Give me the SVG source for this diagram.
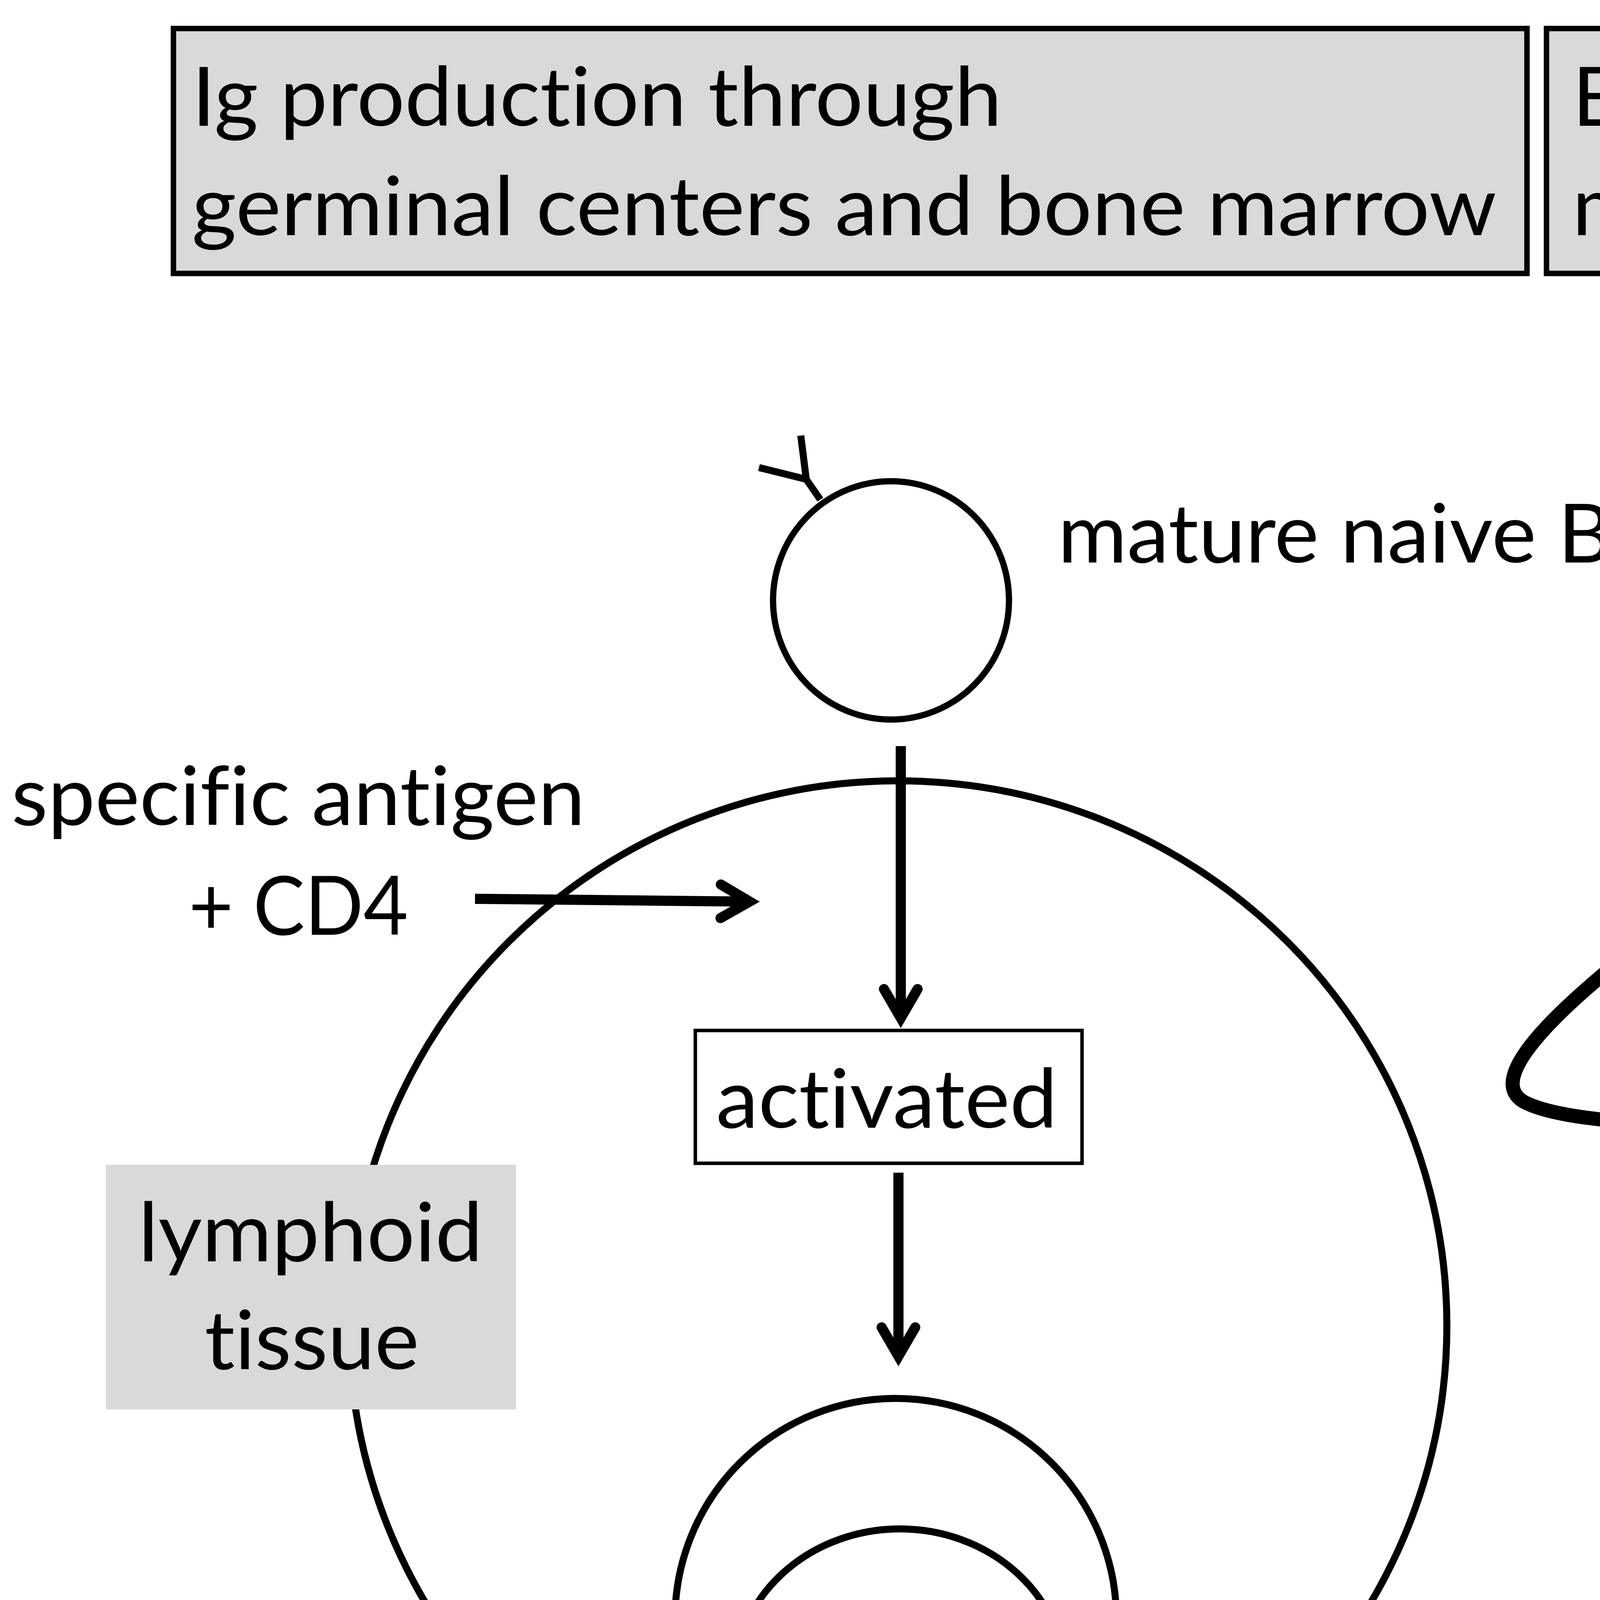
<svg xmlns="http://www.w3.org/2000/svg" width="7882" height="6039" viewBox="0 0 7882 6039">
<style>
.t{font-family:Lato,"Liberation Sans","Noto Sans CJK JP",sans-serif;font-size:210px;fill:#000;font-variant-ligatures:none}
.s{font-size:180px}
.b{font-weight:bold}
.cjk{font-family:"Noto Sans CJK JP",sans-serif;font-weight:normal;font-size:265px;letter-spacing:-40px}
.y{font-family:Lato,"Liberation Sans",sans-serif;font-size:250px;fill:#000}
.ln{fill:none;stroke:#000;stroke-width:18}
.cell{fill:none;stroke:#000;stroke-width:16}
.rc{fill:none;stroke:#000;stroke-width:18;stroke-linecap:butt;stroke-linejoin:miter}
.box{fill:#fff;stroke:#000;stroke-width:9}
.hdr{fill:#d9d9d9;stroke:#000;stroke-width:14}
.arr{fill:none;stroke:#000;stroke-width:26;marker-end:url(#ah)}
.hex{fill:#a6a6a6}
</style>
<defs>
<marker id="ah" markerUnits="userSpaceOnUse" orient="auto" refX="0" refY="0" markerWidth="200" markerHeight="200" overflow="visible">
<path d="M-70,-43 L4,0 L-70,43" fill="none" stroke="#000" stroke-width="26" stroke-linecap="round" stroke-linejoin="miter"/>
</marker>
<marker id="ahb" markerUnits="userSpaceOnUse" orient="auto" refX="0" refY="0" markerWidth="300" markerHeight="300" overflow="visible">
<path d="M-100,-65 L8,0 L-100,65" fill="none" stroke="#000" stroke-width="32" stroke-linecap="round" stroke-linejoin="miter"/>
</marker>
<polygon id="hx" points="0,-57 52,-28 52,28 0,57 -52,28 -52,-28"/>
</defs>

<g id="header-left">
<rect class="hdr" x="444" y="73" width="3465" height="627"/>
<text class="t" x="491" y="322" textLength="2074" lengthAdjust="spacingAndGlyphs">Ig production through</text>
<text class="t" x="491" y="602" textLength="3340" lengthAdjust="spacingAndGlyphs">germinal centers and bone marrow</text>
</g>
<g id="header-right">
<rect class="hdr" x="3959" y="73" width="3842" height="627"/>
<text class="t" x="4025" y="322" textLength="3675" lengthAdjust="spacingAndGlyphs">EBV reactivation-induced Ig production</text>
<text class="t" x="4025" y="602" textLength="2950" lengthAdjust="spacingAndGlyphs">may rescue autoreactive B cells</text>
</g>

<g id="lymphoid-tissue">
<ellipse class="ln" cx="2299" cy="3394" rx="1405" ry="1395"/>
<rect x="271" y="2982" width="1050" height="626" fill="#d9d9d9"/>
<text class="t" x="354" y="3229" textLength="882" lengthAdjust="spacingAndGlyphs">lymphoid</text>
<text class="t" x="524" y="3505" textLength="549" lengthAdjust="spacingAndGlyphs">tissue</text>
</g>

<g id="naive-b-cell">
<ellipse class="cell" cx="2281" cy="1537" rx="302" ry="305"/>
<path class="rc" d="M2100,1279 L2064,1227 M1943,1197 L2064,1227 L2050,1115"/>
<text class="t" x="2708" y="1440" textLength="1791" lengthAdjust="spacingAndGlyphs">mature naive B cell</text>
</g>

<g id="antigen-label">
<text class="t" x="29" y="2112" textLength="1469" lengthAdjust="spacingAndGlyphs">specific antigen</text>
<text class="t" x="483" y="2393" textLength="562" lengthAdjust="spacingAndGlyphs">+ CD4</text>
</g>

<g id="activated-left">
<rect class="box" x="1780" y="2638" width="990" height="340"/>
<text class="t" x="1833" y="2887" textLength="874" lengthAdjust="spacingAndGlyphs">activated</text>
</g>

<g id="germinal-center">
<circle class="ln" cx="2293" cy="4145" r="565"/>
<ellipse class="ln" cx="2304" cy="4298" rx="423" ry="384"/>
<text class="t s" x="1945" y="4252" textLength="721" lengthAdjust="spacingAndGlyphs">germinal</text>
<text class="t s" x="2045" y="4489" textLength="526" lengthAdjust="spacingAndGlyphs">center</text>
</g>

<g id="plasma-cell-left">
<ellipse class="cell" cx="2330" cy="5565" rx="451" ry="305"/>
<ellipse class="cell" cx="2124" cy="5567" rx="165" ry="200" stroke-width="14"/>
<text class="t" x="764" y="5394" textLength="1043" lengthAdjust="spacingAndGlyphs">plasma cell</text>
<text class="y" text-anchor="middle" transform="translate(2990,5185) rotate(12)">Y</text>
<text class="y" text-anchor="middle" transform="translate(2840,5383) rotate(117)">Y</text>
<text class="y" text-anchor="middle" transform="translate(3260,5517)">Y</text>
</g>

<g id="bone-marrow-label">
<text class="t b" y="5970"><tspan class="cjk" x="215" y="5986">＜</tspan><tspan x="440" y="5970" textLength="1313" lengthAdjust="spacingAndGlyphs">bone marrow</tspan><tspan class="cjk" x="1750" y="5986">＞</tspan></text>
</g>

<g id="naive-autoreactive-b-cell">
<ellipse class="cell" cx="5432" cy="1548" rx="303" ry="307"/>
<path class="rc" d="M5665,1342 L5728,1291 M5759,1181 L5728,1291 L5848,1278"/>
<text class="t" x="6052" y="1285" textLength="1246" lengthAdjust="spacingAndGlyphs">mature naive</text>
<text class="t" x="6052" y="1563"><tspan text-decoration="underline" textLength="1195" lengthAdjust="spacingAndGlyphs">autoreactive</tspan><tspan> B cell</tspan></text>
</g>

<g id="ebv-infected-b-cell">
<ellipse class="cell" cx="5986" cy="2750" rx="299" ry="307"/>
<path class="rc" d="M6247,2580 L6321,2527 M6340,2410 L6321,2527 L6420,2514"/>
<use href="#hx" class="hex" x="6364" y="2952"/>
<text class="t" x="6515" y="2935" textLength="1250" lengthAdjust="spacingAndGlyphs">EBV infection</text>
</g>

<g id="activated-right">
<rect class="box" x="5491" y="3594" width="986" height="337"/>
<text class="t" x="5541" y="3831" textLength="878" lengthAdjust="spacingAndGlyphs">activated</text>
</g>

<g id="plasma-cell-right">
<ellipse class="cell" cx="5941" cy="5091" rx="446" ry="303"/>
<ellipse class="cell" cx="5739" cy="5092" rx="163" ry="194" stroke-width="14"/>
<use href="#hx" class="hex" x="6138" y="4958"/>
<use href="#hx" class="hex" x="6225" y="5113"/>
<use href="#hx" class="hex" x="6499" y="5070"/>
<use href="#hx" class="hex" x="6598" y="5273"/>
<use href="#hx" class="hex" x="6120" y="5437"/>
<text class="y" text-anchor="middle" transform="translate(6670,5177) rotate(12)">Y</text>
<text class="y" text-anchor="middle" transform="translate(6665,5550) rotate(-50)">Y</text>
<text class="y" text-anchor="middle" transform="translate(6912,5355) rotate(138)">Y</text>
</g>

<g id="circulation-label">
<text class="t b" y="5978"><tspan class="cjk" x="4931" y="5997">＜</tspan><tspan x="5156" y="5978" textLength="2290" lengthAdjust="spacingAndGlyphs">circulation, local tissues</tspan><tspan class="cjk" x="7450" y="5997">＞</tspan></text>
</g>

<g id="edge-labels">
<text class="t" x="4453" y="2742" textLength="664" lengthAdjust="spacingAndGlyphs">purged</text>
<text class="t s" x="6189" y="3358" textLength="1374" lengthAdjust="spacingAndGlyphs">LMP1 expression</text>
<text class="t" x="4368" y="4308" textLength="1049" lengthAdjust="spacingAndGlyphs">plasma cell</text>
<text class="t" x="4366" y="4582" textLength="1358" lengthAdjust="spacingAndGlyphs">differentiation</text>
<text class="t" x="6176" y="4463" textLength="1124" lengthAdjust="spacingAndGlyphs">reactivation</text>
</g>

<g id="connectors">
<line class="arr" x1="2306" y1="1910" x2="2306" y2="2602"/>
<line class="arr" stroke-width="22" x1="1216" y1="2301" x2="1915" y2="2308"/>
<line class="arr" x1="2300" y1="3002" x2="2300" y2="3468"/>
<line class="arr" x1="2291" y1="4751" x2="2291" y2="5136"/>
<path fill="none" stroke="#000" stroke-width="36" marker-end="url(#ahb)" d="M5085,1791 L4300,2340 C3980,2580 3800,2760 3900,2820 C4000,2875 4300,2885 4700,2893 L5500,2888"/>
<line class="arr" x1="5988" y1="3108" x2="5988" y2="3543"/>
<line class="arr" x1="5994" y1="3946" x2="5996" y2="4666"/>
</g>
</svg>
